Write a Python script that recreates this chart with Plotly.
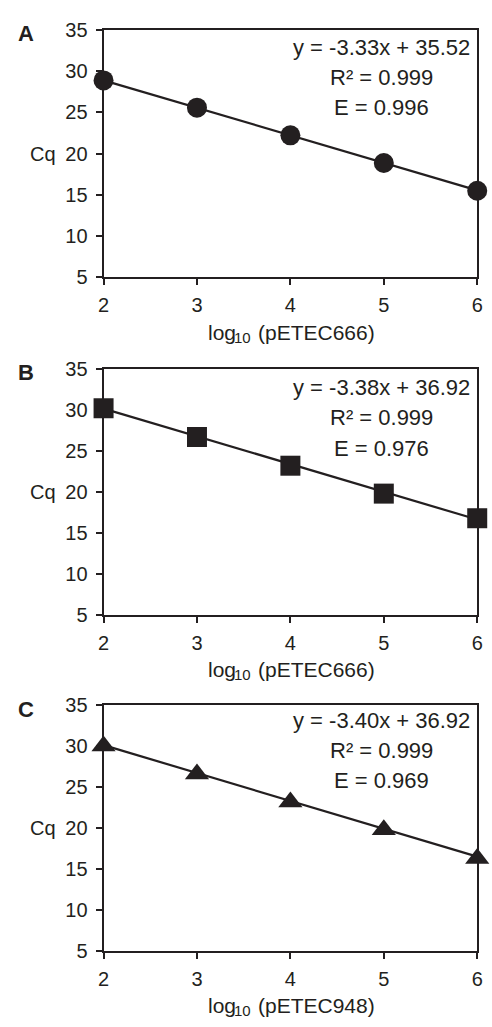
import plotly.graph_objects as go

# ---- data ----
log_conc = [2, 3, 4, 5, 6]
cq_a = [28.85, 25.55, 22.2, 18.85, 15.5]
cq_b = [30.2, 26.7, 23.2, 19.8, 16.8]
cq_c = [30.0, 26.6, 23.2, 19.8, 16.3]
slopes = [-3.33, -3.38, -3.40]
intercepts = [35.52, 36.92, 36.92]
r_squared = [0.999, 0.999, 0.999]
efficiency = [0.996, 0.976, 0.969]
panel_letters = ["A", "B", "C"]
plasmids = ["pETEC666", "pETEC666", "pETEC948"]
symbols = ["circle", "square", "triangle-up"]
y_ticks = [5, 10, 15, 20, 25, 30, 35]
x_ticks = [2, 3, 4, 5, 6]

W, H = 492, 1027
INK = "#231f20"
FONT = "Liberation Sans, Arial, Helvetica, sans-serif"

panels_px = [(19, 272.3), (365.7, 617.3), (709.3, 960.7)]
eq_offsets = [(18, 49, 80), (19, 49.5, 81), (16, 46, 77)]
x_left, x_right = 100, 483

def py(p):
    return 1 - p / H

def ann(text, xpx, ypx, size, xanchor="center", bold=False):
    return dict(text=("<b>%s</b>" % text) if bold else text, x=xpx / W, y=py(ypx),
                xref="paper", yref="paper", showarrow=False,
                xanchor=xanchor, yanchor="middle", borderpad=0,
                font=dict(family=FONT, size=size, color=INK))

fig = go.Figure()
series = [cq_a, cq_b, cq_c]
annotations = []
layout_axes = {}
for i in range(3):
    n = "" if i == 0 else str(i + 1)
    top, bot = panels_px[i]
    xa = "x" + n
    ya = "y" + n
    slope, icpt = slopes[i], intercepts[i]
    fit_y = [slope * x + icpt for x in log_conc]
    fig.add_trace(go.Scatter(x=[log_conc[0], log_conc[-1]], y=[fit_y[0], fit_y[-1]],
                             mode="lines", line=dict(color=INK, width=2.2),
                             xaxis=xa, yaxis=ya, showlegend=False, cliponaxis=False,
                             hoverinfo="skip"))
    msize = 21 if symbols[i] == "triangle-up" else 20
    fig.add_trace(go.Scatter(x=log_conc, y=series[i], mode="markers",
                             marker=dict(symbol=symbols[i], size=msize, color=INK,
                                         line=dict(width=0)),
                             xaxis=xa, yaxis=ya, showlegend=False, cliponaxis=False))
    axis_common = dict(showline=True, linewidth=2, linecolor=INK, mirror=True,
                       ticks="outside", ticklen=6, tickwidth=2, tickcolor=INK,
                       showgrid=False, zeroline=False,
                       tickfont=dict(family=FONT, size=20, color=INK))
    layout_axes["xaxis" + n] = dict(axis_common, domain=[x_left / W, x_right / W],
                                   range=[2, 6], tickvals=x_ticks, anchor=ya,
                                   ticklabelstandoff=3)
    layout_axes["yaxis" + n] = dict(axis_common, domain=[py(bot), py(top)],
                                   range=[5, 35], tickvals=y_ticks, anchor=xa,
                                   ticklabelstandoff=4)
    # panel letter
    annotations.append(ann(panel_letters[i], 21, top + 4, 22, bold=True))
    # y title
    y20 = top + (35 - 20) / 30 * (bot - top)
    annotations.append(ann("Cq", 38, y20, 20))
    # x title: log, subscript 10, (plasmid)
    ty = bot + 56
    annotations.append(ann("log", 237, ty, 21, xanchor="right"))
    annotations.append(ann("10", 233, ty + 5, 15, xanchor="left"))
    annotations.append(ann("(%s)" % plasmids[i], 257, ty, 21, xanchor="left"))
    # equation text
    lines = ["y = %.2fx + %.2f" % (slope, icpt),
             "R\u00b2 = %.3f" % r_squared[i],
             "E = %.3f" % efficiency[i]]
    for t, off in zip(lines, eq_offsets[i]):
        annotations.append(ann(t, 385, top + off, 22))

fig.update_layout(width=W, height=H, margin=dict(l=0, r=0, t=0, b=0),
                  paper_bgcolor="white", plot_bgcolor="white",
                  annotations=annotations, **layout_axes)
fig.write_html("out.html", config={"displayModeBar": False},
               post_script="document.body.style.margin='0';document.body.style.overflow='hidden';")
